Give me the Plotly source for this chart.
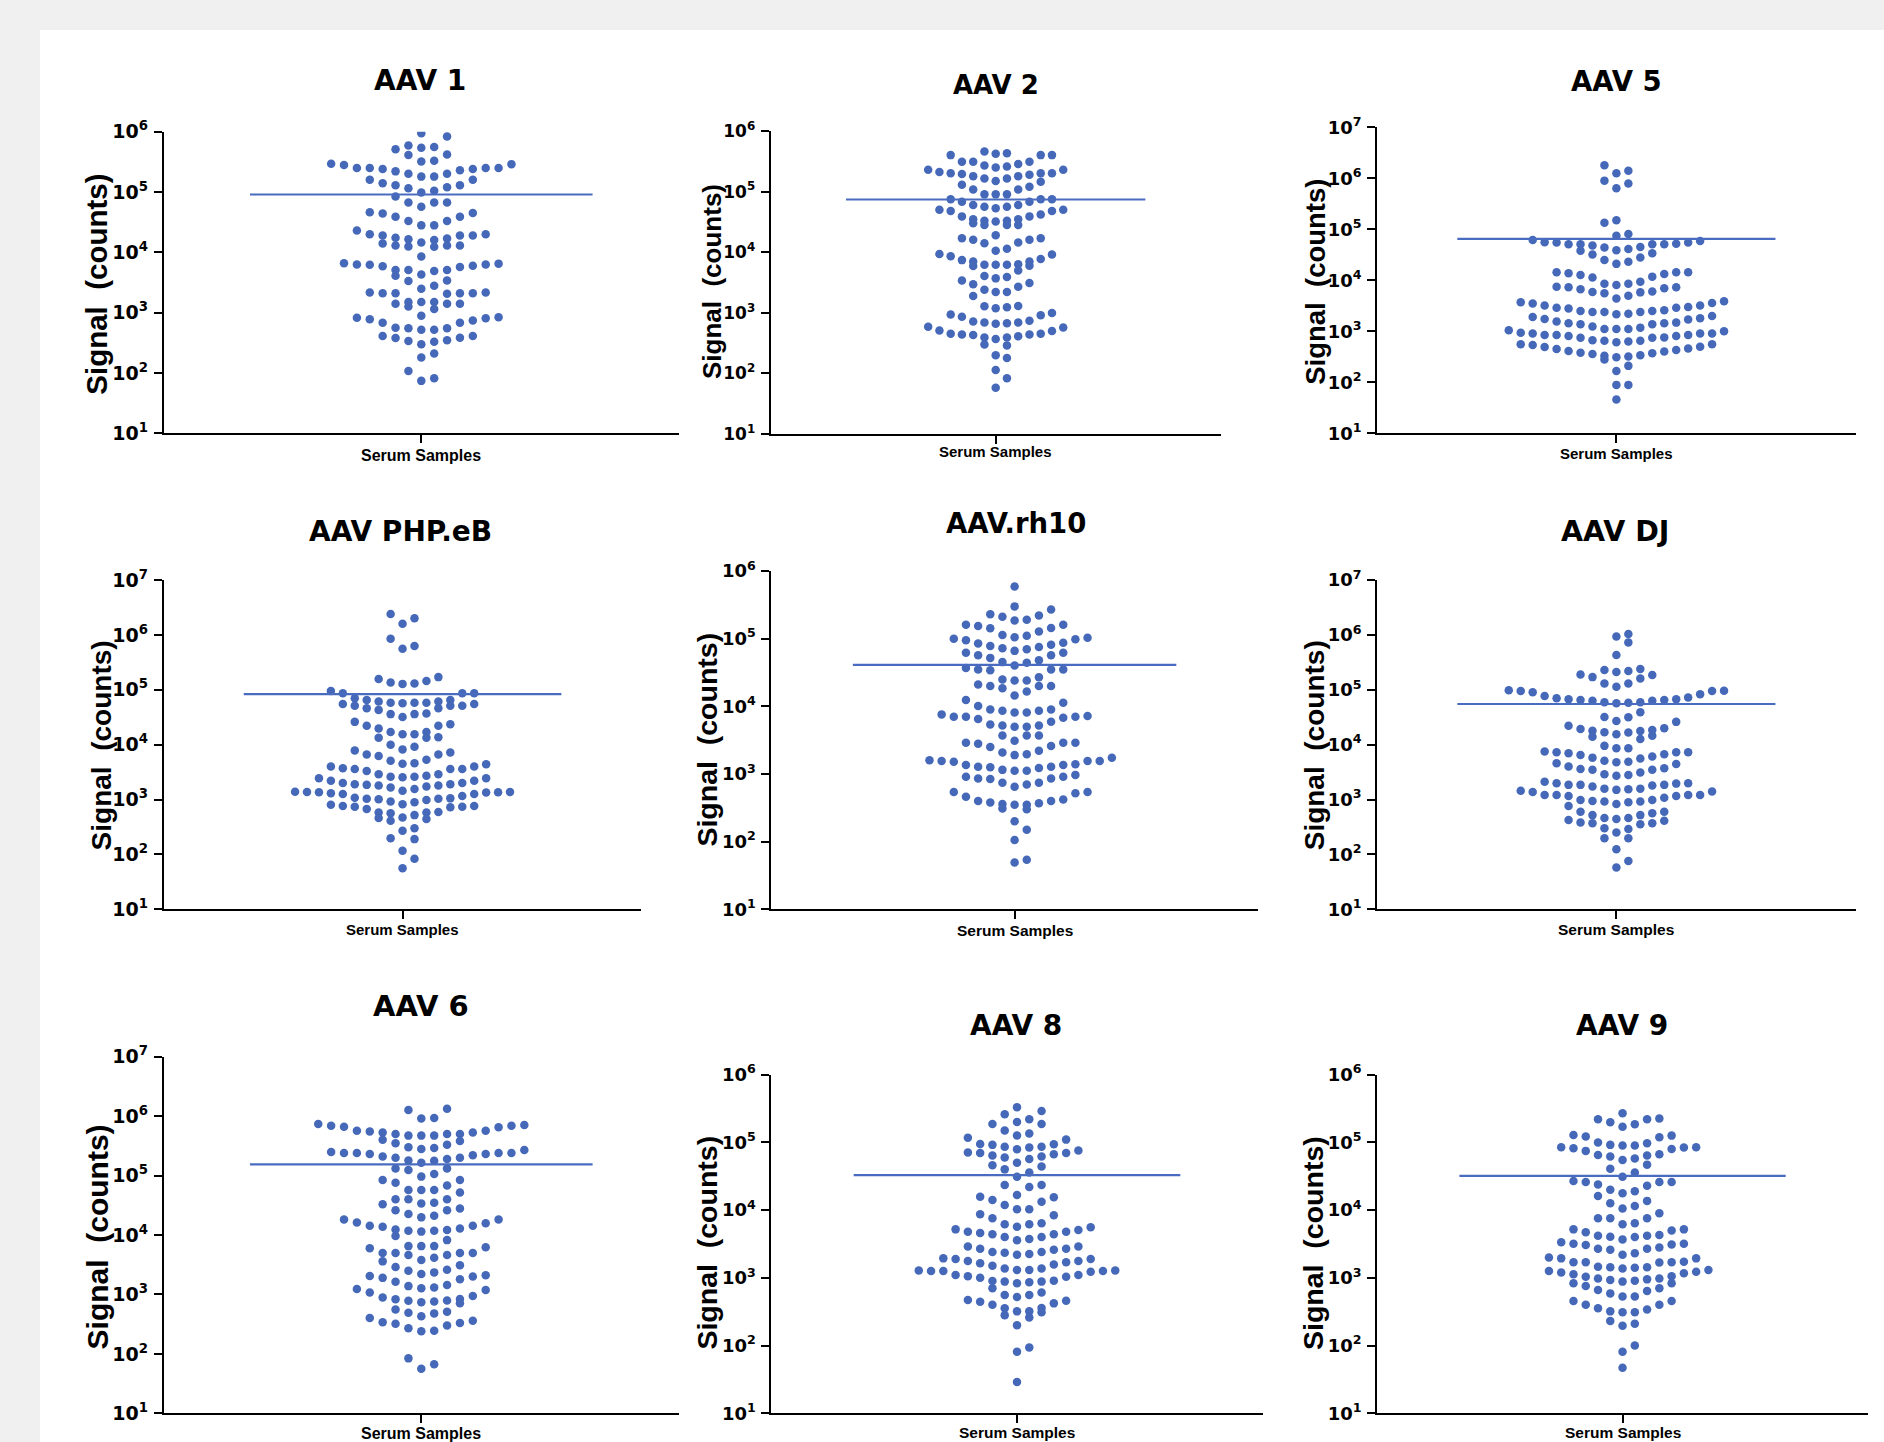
import numpy as np
import plotly.graph_objects as go

W, H = 1884, 1442

# ---------------- data (Signal counts) ----------------
titles = ["AAV 1", "AAV 2", "AAV 5", "AAV PHP.eB", "AAV.rh10", "AAV DJ",
          "AAV 6", "AAV 8", "AAV 9"]

aav1 = [9.4e5, 8.3e5, 5.9e5, 5.6e5, 5.4e5, 5.1e5, 4.2e5, 4.1e5,
        3.3e5, 3.2e5, 2.95e5, 2.9e5, 2.8e5,
        2.5e5, 2.5e5, 2.4e5, 2.3e5, 2.4e5, 2.5e5, 2.5e5,
        2.2e5, 2.0e5, 2.0e5,
        1.8e5, 1.8e5, 1.6e5, 1.6e5, 1.4e5, 1.3e5, 1.3e5, 1.2e5, 1.15e5,
        1.05e5, 9.8e4, 8.4e4, 6.7e4, 6.7e4, 6.7e4, 5.7e4, 4.6e4, 4.5e4, 4.4e4,
        3.9e4, 3.9e4, 3.3e4, 3.3e4, 2.8e4, 2.8e4, 2.3e4,
        2.0e4, 1.9e4, 1.75e4, 1.6e4, 1.45e4, 1.3e4, 1.3e4, 1.24e4, 1.25e4, 1.3e4,
        1.4e4, 1.65e4, 1.7e4, 1.9e4, 1.9e4, 2.0e4,
        8.5e3, 6.6e3, 6.3e3, 6.2e3, 5.9e3, 5.7e3, 6.0e3, 6.3e3, 6.5e3,
        5.1e3, 5.1e3, 4.9e3, 5.1e3, 4.3e3, 4.1e3, 3.4e3, 3.35e3, 2.8e3, 2.5e3,
        2.15e3, 2.1e3, 2.1e3, 2.05e3, 2.1e3, 2.1e3, 2.15e3,
        1.5e3, 1.4e3, 1.4e3, 1.26e3, 1.4e3, 1.5e3, 1.5e3, 1.15e3,
        8.4e2, 8.1e2, 7.4e2, 6.8e2, 6.8e2, 7.8e2, 8.2e2, 8.9e2,
        5.6e2, 5.5e2, 5.5e2, 5.2e2, 5.2e2,
        4.1e2, 3.85e2, 3.5e2, 3.3e2, 3.4e2, 3.0e2, 3.8e2, 4.1e2,
        2.1e2, 1.8e2, 1.08e2, 82, 74]

aav2 = [4.6e5, 4.2e5, 4.0e5, 3.1e5, 3.1e5, 3.1e5, 4.0e5, 4.0e5, 4.3e5,
        2.7e5, 2.5e5, 2.3e5, 2.1e5, 2.0e5, 1.95e5, 2.0e5, 2.0e5, 2.3e5, 2.6e5, 2.85e5,
        1.9e5, 1.8e5, 1.65e5, 1.45e5, 1.2e5, 1.3e5, 1.5e5, 1.65e5, 1.8e5,
        1.08e5, 1.08e5, 9.0e4, 9.0e4, 9.0e4, 7.5e4, 7.5e4, 7.5e4,
        6.8e4, 6.8e4, 6.0e4, 6.0e4, 5.6e4, 5.6e4, 5.3e4, 5.0e4, 5.0e4, 4.8e4, 4.8e4,
        4.2e4, 3.9e4, 3.9e4, 3.5e4, 3.5e4, 3.3e4, 3.3e4, 3.2e4, 3.0e4, 2.8e4, 2.8e4, 2.8e4,
        1.9e4, 1.7e4, 1.6e4, 1.4e4, 1.45e4, 1.6e4, 1.7e4,
        1.06e4, 9.2e3, 8.6e3, 9.3e3, 1.14e4,
        7.7e3, 7.0e3, 6.3e3, 6.2e3, 6.0e3, 5.0e3, 5.9e3, 6.2e3, 6.2e3, 7.0e3, 7.4e3,
        4.05e3, 3.7e3, 3.1e3, 2.95e3, 3.4e3, 3.9e3,
        2.7e3, 2.2e3, 1.9e3, 2.2e3, 2.4e3,
        1.3e3, 1.23e3, 9.9e2, 9.1e2, 8.6e2, 9.4e2, 1.19e3, 1.28e3,
        7.2e2, 6.9e2, 6.6e2, 5.7e2, 5.0e2, 5.1e2, 5.9e2, 6.7e2, 6.9e2, 7.4e2,
        4.5e2, 4.4e2, 4.1e2, 3.9e2, 3.0e2, 2.9e2, 3.7e2, 3.9e2, 4.3e2, 4.4e2, 4.5e2,
        1.8e2, 2.0e2, 1.14e2, 83, 58]

aav5 = [1.8e6, 1.4e6, 1.25e6, 9.0e5, 7.9e5, 6.4e5, 1.5e5, 1.35e5, 8.1e4, 7.5e4,
        6.2e4, 5.6e4, 5.5e4, 5.1e4, 5.1e4, 4.8e4, 4.4e4, 3.9e4, 3.8e4, 4.1e4, 4.5e4,
        5.1e4, 5.1e4, 5.2e4, 5.5e4, 5.9e4,
        3.2e4, 3.4e4, 2.8e4, 2.5e4, 2.3e4, 2.1e4,
        1.44e4, 1.44e4, 1.33e4, 1.18e4, 1.13e4, 1.27e4, 1.37e4, 1.44e4,
        9.4e3, 8.6e3, 7.5e3, 7.3e3, 6.7e3, 5.9e3, 5.6e3, 5.8e3, 6.0e3, 7.0e3, 7.3e3, 8.1e3, 8.6e3,
        5.0e3, 4.4e3, 3.9e3, 3.7e3, 3.5e3, 3.6e3, 3.2e3, 3.2e3, 3.0e3,
        2.9e3, 2.6e3, 2.4e3, 2.4e3, 2.2e3, 2.0e3, 1.8e3, 1.7e3, 1.75e3, 1.9e3, 2.15e3,
        2.4e3, 2.5e3, 2.5e3, 2.8e3, 2.9e3,
        1.48e3, 1.44e3, 1.37e3, 1.18e3, 1.11e3, 1.05e3, 1.0e3, 1.11e3, 1.11e3, 1.24e3,
        1.37e3, 1.44e3, 1.55e3,
        9.1e2, 9.1e2, 8.5e2, 8.1e2, 7.6e2, 7.5e2, 6.5e2, 6.1e2, 5.6e2, 6.3e2, 6.5e2,
        6.7e2, 7.5e2, 8.1e2, 8.5e2, 8.5e2, 9.1e2, 9.4e2,
        5.6e2, 5.0e2, 4.6e2, 4.3e2, 4.0e2, 3.7e2, 3.4e2, 3.2e2, 3.1e2, 3.3e2, 3.6e2,
        3.8e2, 4.1e2, 4.5e2, 4.9e2, 5.4e2,
        2.8e2, 2.1e2, 1.67e2, 89, 89, 46]

aav_php = [2.4e6, 2.0e6, 1.6e6, 8.5e5, 6.3e5, 5.6e5,
           1.7e5, 1.57e5, 1.45e5, 1.35e5, 1.3e5, 1.28e5,
           9.5e4, 8.6e4, 8.6e4, 8.6e4, 7.0e4,
           6.5e4, 6.5e4, 6.1e4, 6.1e4, 5.8e4, 5.8e4, 5.8e4, 5.7e4, 5.5e4, 5.5e4,
           5.1e4, 5.1e4, 5.1e4, 4.6e4, 4.6e4,
           4.3e4, 3.7e4, 3.6e4, 3.6e4, 3.2e4,
           2.6e4, 2.35e4, 2.2e4, 2.2e4, 1.96e4,
           1.7e4, 1.7e4, 1.55e4, 1.55e4, 1.36e4, 1.34e4, 1.34e4, 1.0e4,
           9.2e3, 8.2e3, 7.8e3, 7.2e3, 6.6e3, 6.6e3, 6.2e3,
           5.3e3, 5.1e3, 4.6e3, 4.5e3, 4.4e3, 4.0e3, 4.0e3, 3.7e3, 3.6e3, 3.6e3, 3.6e3, 3.3e3,
           2.9e3, 2.9e3, 2.7e3, 2.6e3, 2.6e3, 2.55e3, 2.45e3, 2.45e3, 2.2e3, 2.2e3, 2.0e3,
           2.0e3, 1.9e3, 1.9e3, 1.85e3, 1.8e3, 1.8e3, 1.72e3, 1.65e3, 1.56e3, 1.45e3,
           1.39e3, 1.37e3, 1.37e3, 1.36e3, 1.36e3, 1.34e3, 1.3e3, 1.26e3, 1.26e3,
           1.16e3, 1.08e3, 1.05e3, 1.03e3, 1.03e3, 1.01e3, 9.8e2, 9.2e2, 8.9e2, 8.2e2,
           8.0e2, 7.6e2, 7.6e2, 7.4e2, 7.4e2, 7.2e2,
           6.7e2, 5.9e2, 5.8e2, 5.8e2, 5.6e2, 5.2e2, 4.7e2, 4.6e2, 4.4e2, 4.1e2,
           3.0e2, 2.7e2, 1.97e2, 1.9e2, 1.17e2, 83, 56]

aav_rh10 = [5.9e5, 3.0e5, 2.7e5, 2.3e5, 2.2e5, 2.1e5, 1.9e5, 1.85e5,
            1.6e5, 1.6e5, 1.54e5, 1.44e5, 1.42e5, 1.28e5,
            1.13e5, 1.1e5, 1.05e5, 1.03e5, 1.0e5, 9.8e4, 9.5e4, 8.7e4,
            8.5e4, 8.1e4, 7.8e4, 7.5e4, 7.2e4, 7.0e4, 6.6e4, 6.2e4, 6.2e4, 5.7e4, 5.7e4,
            5.2e4, 4.8e4, 4.5e4, 4.4e4, 4.0e4, 3.7e4, 3.5e4, 3.5e4, 3.5e4, 3.4e4,
            2.7e4, 2.5e4, 2.4e4, 2.4e4,
            2.1e4, 2.0e4, 2.0e4, 2.0e4, 1.85e4, 1.65e4, 1.45e4, 1.24e4, 1.13e4, 1.01e4,
            9.0e3, 9.0e3, 8.6e3, 8.6e3, 8.1e3, 8.1e3, 7.6e3, 7.2e3, 7.0e3, 7.0e3, 7.0e3,
            6.8e3, 6.5e3, 5.9e3, 5.4e3, 5.2e3, 5.2e3, 5.0e3, 5.0e3,
            3.7e3, 3.7e3, 3.7e3,
            3.1e3, 2.9e3, 2.9e3, 2.9e3, 2.8e3, 2.6e3, 2.5e3, 2.2e3, 2.07e3,
            1.95e3, 1.9e3, 1.74e3, 1.6e3, 1.56e3, 1.56e3, 1.56e3, 1.52e3, 1.39e3, 1.36e3,
            1.36e3, 1.28e3, 1.28e3,
            1.26e3, 1.23e3, 1.15e3, 1.12e3, 1.12e3, 9.7e2, 9.1e2, 9.1e2, 8.6e2, 8.6e2, 8.4e2,
            7.4e2, 7.4e2, 7.0e2, 6.5e2, 5.4e2, 5.4e2, 5.2e2,
            4.6e2, 4.2e2, 4.0e2, 4.0e2, 3.8e2, 3.7e2, 3.6e2, 3.5e2, 3.5e2, 3.1e2, 3.0e2,
            2.0e2, 1.5e2, 1.06e2, 54, 49]

aav_dj = [1.04e6, 9.3e5, 7.3e5, 4.3e5,
          2.4e5, 2.3e5, 2.2e5, 2.1e5, 1.9e5, 1.86e5, 1.7e5, 1.6e5,
          1.3e5, 1.3e5, 1.14e5, 9.8e4, 9.5e4, 9.6e4,
          9.5e4, 9.0e4, 8.3e4, 7.7e4, 7.2e4, 7.0e4, 6.7e4, 6.7e4, 6.5e4, 6.5e4,
          6.3e4, 6.3e4, 5.9e4, 5.9e4, 5.8e4, 5.7e4,
          3.9e4, 3.2e4, 3.15e4, 2.7e4, 2.6e4,
          2.2e4, 2.0e4, 1.93e4, 1.85e4, 1.8e4, 1.78e4, 1.68e4, 1.66e4, 1.55e4, 1.46e4,
          1.4e4, 1.27e4, 9.5e3, 8.6e3, 8.6e3,
          7.5e3, 7.3e3, 7.3e3, 7.3e3, 7.0e3, 6.7e3, 6.5e3, 6.1e3, 5.8e3, 5.6e3, 5.1e3,
          4.9e3, 4.8e3, 4.6e3, 4.45e3,
          4.0e3, 3.7e3, 3.6e3, 3.5e3, 3.5e3, 3.1e3, 2.9e3, 2.8e3, 2.7e3,
          2.1e3, 1.98e3, 1.95e3, 1.98e3, 1.85e3, 1.85e3, 1.85e3, 1.8e3, 1.72e3, 1.58e3,
          1.58e3, 1.54e3, 1.5e3, 1.44e3, 1.4e3, 1.37e3,
          1.21e3, 1.21e3, 1.21e3, 1.21e3, 1.16e3, 1.16e3, 1.08e3, 9.8e2, 9.8e2, 9.4e2,
          9.2e2, 9.2e2, 8.9e2, 8.3e2, 7.6e2,
          6.0e2, 6.0e2, 5.6e2, 5.2e2, 5.2e2, 4.6e2, 4.6e2, 4.4e2, 4.25e2,
          4.1e2, 3.8e2, 3.7e2, 3.7e2, 3.55e2,
          3.0e2, 2.9e2, 2.5e2, 1.97e2, 1.97e2, 1.24e2, 76, 58]

aav6 = [1.33e6, 1.27e6, 9.3e5, 9.1e5,
        7.4e5, 6.9e5, 6.5e5, 5.7e5, 5.5e5, 5.3e5, 5.0e5, 5.0e5, 5.0e5, 5.3e5, 5.7e5,
        6.6e5, 6.9e5, 7.1e5,
        4.7e5, 4.7e5, 4.7e5, 3.8e5, 4.0e5, 3.5e5, 3.3e5, 2.9e5, 3.0e5,
        2.8e5, 2.5e5, 2.4e5, 2.4e5, 2.3e5, 2.1e5, 2.0e5, 1.8e5, 1.78e5, 1.9e5, 2.0e5,
        2.2e5, 2.3e5, 2.4e5, 2.4e5, 2.7e5,
        1.65e5, 1.32e5, 1.24e5, 1.32e5, 1.06e5, 9.6e4, 8.4e4, 8.4e4, 7.6e4, 6.8e4,
        5.7e4, 5.7e4, 5.7e4, 5.2e4, 4.0e4, 4.0e4, 4.0e4, 3.5e4, 3.3e4, 3.4e4,
        2.8e4, 2.6e4, 2.6e4, 2.25e4, 2.1e4, 1.98e4,
        1.83e4, 1.63e4, 1.43e4, 1.38e4, 1.24e4, 1.18e4, 1.14e4, 1.18e4, 1.21e4, 1.29e4,
        1.43e4, 1.57e4, 1.83e4,
        9.6e3, 8.2e3, 6.5e3, 6.5e3, 6.2e3, 6.5e3, 5.0e3, 5.0e3, 4.6e3, 4.6e3, 5.0e3,
        5.0e3, 6.0e3, 4.15e3, 3.6e3, 3.8e3, 2.9e3, 3.1e3, 2.6e3, 2.35e3, 2.5e3,
        2.2e3, 2.1e3, 2.0e3, 1.8e3, 1.64e3, 1.9e3, 2.04e3,
        1.44e3, 1.31e3, 1.23e3, 1.27e3, 1.38e3, 1.19e3, 1.08e3,
        9.4e2, 8.4e2, 7.9e2, 7.6e2, 7.4e2, 7.8e2, 8.3e2, 8.9e2, 7.1e2,
        5.6e2, 4.9e2, 4.3e2, 4.8e2, 5.1e2,
        3.6e2, 3.3e2, 3.0e2, 2.45e2, 2.4e2, 2.7e2, 3.2e2, 3.4e2, 4.0e2,
        84, 67, 56]

aav8 = [3.3e5, 2.9e5, 2.6e5, 2.2e5, 2.0e5, 1.87e5, 1.87e5, 1.5e5, 1.27e5, 1.35e5,
        1.17e5, 1.1e5, 9.4e4, 9.2e4, 9.5e4,
        8.6e4, 8.4e4, 7.6e4, 7.0e4, 6.7e4, 6.2e4, 5.7e4, 6.0e4, 6.4e4, 7.0e4, 7.1e4,
        7.9e4, 8.6e4,
        5.0e4, 4.6e4, 4.4e4, 4.0e4, 3.6e4, 3.1e4, 2.35e4, 2.35e4, 2.2e4,
        1.58e4, 1.67e4, 1.55e4, 1.41e4, 1.33e4, 1.19e4, 1.03e4, 1.03e4, 8.7e3, 8.4e3, 7.6e3,
        6.2e3, 5.7e3, 5.6e3, 6.2e3, 6.4e3,
        5.2e3, 4.8e3, 4.6e3, 4.4e3, 4.0e3, 3.6e3, 3.75e3, 4.0e3, 4.4e3, 4.8e3, 5.1e3,
        2.9e3, 2.7e3, 2.6e3, 2.4e3, 2.25e3, 2.2e3, 2.35e3, 2.4e3, 2.7e3, 2.9e3,
        1.9e3, 1.77e3, 1.7e3, 1.58e3, 1.37e3, 1.31e3, 1.28e3, 1.26e3, 1.28e3, 1.31e3,
        1.37e3, 1.51e3, 1.64e3, 1.77e3, 1.9e3, 1.94e3,
        1.26e3, 1.23e3, 1.1e3, 1.04e3, 9.1e2, 8.8e2, 8.6e2, 8.3e2, 8.8e2, 9.0e2,
        1.0e3, 1.06e3, 1.1e3, 1.26e3,
        7.0e2, 6.1e2, 5.6e2, 5.6e2, 5.2e2,
        4.6e2, 4.2e2, 3.6e2, 3.2e2, 3.2e2, 3.55e2, 4.0e2, 4.45e2, 4.7e2,
        2.8e2, 2.6e2, 3.1e2, 2.0e2, 94, 81, 29]

aav9 = [2.7e5, 2.26e5, 2.2e5, 2.2e5, 1.98e5, 1.85e5, 1.7e5, 1.29e5, 1.26e5, 1.22e5, 1.19e5,
        1.0e5, 9.7e4, 9.2e4, 9.0e4, 8.5e4, 8.2e4, 8.5e4, 9.0e4, 8.0e4, 8.4e4, 7.5e4,
        6.2e4, 6.7e4, 6.5e4, 5.8e4, 6.4e4, 5.5e4, 4.7e4, 4.1e4, 3.6e4, 3.1e4, 2.7e4,
        2.6e4, 2.6e4, 2.6e4, 2.3e4, 2.4e4, 2.0e4, 1.9e4, 1.77e4, 1.62e4, 1.37e4, 1.26e4,
        1.15e4, 1.06e4, 9.0e3,
        7.6e3, 7.6e3, 7.6e3, 6.2e3, 6.4e3, 5.2e3, 5.0e3, 5.2e3,
        4.7e3, 4.2e3, 4.05e3, 3.7e3, 4.2e3, 4.0e3, 4.3e3,
        3.05e3, 2.7e3, 2.6e3, 3.2e3, 3.1e3, 3.2e3, 3.35e3, 2.7e3, 2.8e3,
        2.2e3, 2.0e3, 2.3e3,
        1.94e3, 1.7e3, 1.68e3, 1.46e3, 1.43e3, 1.38e3, 1.26e3, 1.31e3, 1.41e3, 1.43e3,
        1.7e3, 1.7e3, 1.73e3, 1.94e3,
        1.23e3, 1.17e3, 1.06e3, 9.8e2, 9.5e2, 9.1e2, 8.3e2, 8.3e2, 8.8e2, 9.3e2,
        9.8e2, 1.04e3, 1.13e3, 1.2e3,
        7.6e2, 6.6e2, 5.9e2, 5.3e2, 5.3e2, 6.4e2, 7.0e2,
        4.55e2, 4.0e2, 3.4e2, 3.1e2, 3.1e2, 3.2e2, 3.55e2, 4.0e2, 4.55e2,
        2.3e2, 1.97e2, 2.1e2, 1.0e2, 81, 47]

series = [aav1, aav2, aav5, aav_php, aav_rh10, aav_dj, aav6, aav8, aav9]
mean_lines = [9.1e4, 7.4e4, 6.5e4, 8.3e4, 4.1e4, 5.5e4, 1.54e5, 3.3e4, 3.2e4]
y_top_exp = [6, 6, 7, 7, 6, 7, 7, 6, 6]
x_label = "Serum Samples"
y_label = "Signal\u00a0\u00a0(counts)"

# ---------------- layout geometry (px) ----------------
boxes = [  # x0, x1, y_top, y_bottom
    (163.7, 678.9, 131.7, 433.3), (770.6, 1220.8, 131.0, 434.0), (1377.2, 1855.6, 127.3, 433.3),
    (163.7, 641.4, 580.0, 909.3), (771.4, 1257.8, 571.0, 909.3), (1377.2, 1855.6, 580.0, 909.3),
    (163.7, 678.9, 1056.7, 1413.3), (771.4, 1262.6, 1074.7, 1413.3), (1377.2, 1867.9, 1074.7, 1413.3)]
title_pos = [(420, 81), (995.5, 85), (1616, 81), (400.2, 531), (1015.5, 523), (1614.9, 531),
             (420.8, 1006), (1015.5, 1025), (1622.4, 1025)]
title_size = [28, 26, 27.5, 28, 27.5, 28.5, 29, 28, 28]
ylab_pos = [(95.7, 284), (712, 282), (1314.8, 282), (101.7, 745.7), (706.6, 740), (1314.8, 745.5),
            (97.7, 1236.7), (706.6, 1243), (1313, 1243)]
ylab_size = [29.5, 26, 27.5, 28, 28.5, 28, 30, 28.5, 28.5]
xlab_y = [455, 451.7, 453.3, 929.3, 930.7, 929.3, 1433, 1432.5, 1432.5]
xlab_size = [16, 15, 15, 15, 15.5, 15.5, 16, 15.5, 15.5]
tick_size = [19, 17, 18, 19, 18, 18, 19, 18, 18]

HALF_SLOTS = 20      # half-width of x axis in dot-slot units
MEAN_HALF = 13.3     # half-width of mean line in slot units
ROW_PX = 13.2        # vertical extent of one swarm row in px
DOT = "#4568b9"
LINE = "#4a6cc0"


def swarm_slots(values, lo, hi, height_px, row_px):
    v = np.asarray(values, float)
    depth = (hi - np.log10(v)) * height_px / (hi - lo)
    order = np.argsort(-depth, kind="stable")
    slots = np.zeros(len(v))
    i, n = 0, len(order)
    while i < n:
        start = depth[order[i]]
        j = i
        while j < n and start - depth[order[j]] <= row_px:
            j += 1
        for r, idx in enumerate(order[i:j]):
            k = (r + 1) // 2
            slots[idx] = k if r % 2 == 1 else -k
        i = j
    return slots


fig = go.Figure()
annotations = []
for p in range(9):
    x0, x1, yt, yb = boxes[p]
    xa = "x" if p == 0 else f"x{p + 1}"
    ya = "y" if p == 0 else f"y{p + 1}"
    top = y_top_exp[p]
    xs = swarm_slots(series[p], 1, top, yb - yt, ROW_PX)
    fig.add_trace(go.Scatter(x=xs, y=series[p], mode="markers", xaxis=xa, yaxis=ya,
                             marker=dict(size=8.5, color=DOT, line=dict(width=0)),
                             showlegend=False, hoverinfo="y"))
    fig.add_trace(go.Scatter(x=[-MEAN_HALF, MEAN_HALF], y=[mean_lines[p]] * 2, mode="lines",
                             xaxis=xa, yaxis=ya, line=dict(color=LINE, width=2.2),
                             showlegend=False, hoverinfo="skip"))
    axis_common = dict(showline=True, linecolor="black", linewidth=2, showgrid=False,
                       zeroline=False, ticks="outside", ticklen=8, tickwidth=2,
                       tickcolor="black", automargin=False)
    xkey = "xaxis" if p == 0 else f"xaxis{p + 1}"
    ykey = "yaxis" if p == 0 else f"yaxis{p + 1}"
    fig.layout[xkey] = dict(domain=[x0 / W, x1 / W], anchor=ya, range=[-HALF_SLOTS, HALF_SLOTS],
                            tickvals=[0], ticktext=[""], fixedrange=True, **axis_common)
    exps = list(range(1, top + 1))
    fig.layout[ykey] = dict(domain=[1 - yb / H, 1 - yt / H], anchor=xa, type="log",
                            range=[1, top], tickvals=[10 ** e for e in exps],
                            ticktext=[f"10<sup>{e}</sup>" for e in exps],
                            tickfont=dict(family="DejaVu Sans", size=tick_size[p],
                                          color="black", weight="bold"),
                            ticklabelstandoff=2, **axis_common)
    tx, ty = title_pos[p]
    annotations.append(dict(text=titles[p], x=tx / W, y=1 - ty / H, xref="paper", yref="paper",
                            xanchor="center", yanchor="middle", showarrow=False,
                            font=dict(family="DejaVu Sans", size=title_size[p], color="black",
                                      weight="bold")))
    lx, ly = ylab_pos[p]
    annotations.append(dict(text=y_label, x=lx / W, y=1 - ly / H, xref="paper", yref="paper",
                            xanchor="center", yanchor="middle", showarrow=False, textangle=-90,
                            font=dict(family="Liberation Sans", size=ylab_size[p], color="black",
                                      weight="bold")))
    annotations.append(dict(text=x_label, x=(x0 + x1) / 2 / W, y=1 - xlab_y[p] / H, xref="paper",
                            yref="paper", xanchor="center", yanchor="middle", showarrow=False,
                            font=dict(family="Liberation Sans", size=xlab_size[p], color="black",
                                      weight="bold")))

fig.update_layout(
    width=W, height=H, margin=dict(l=0, r=0, t=0, b=0, pad=0, autoexpand=False),
    paper_bgcolor="#f0f0f0", plot_bgcolor="rgba(0,0,0,0)",
    annotations=annotations,
    shapes=[dict(type="rect", xref="paper", yref="paper", x0=40 / W, x1=1, y0=0, y1=1 - 30 / H,
                 fillcolor="white", line=dict(width=0), layer="below")],
)
# pin the figure to the window's top-left corner so it fills the 1884x1442 window exactly
pin = ("var gd=document.getElementById('{plot_id}');"
       "document.documentElement.style.margin='0';document.body.style.margin='0';"
       "document.documentElement.style.overflow='hidden';document.body.style.overflow='hidden';"
       "document.body.style.background='#f0f0f0';"
       "gd.style.position='fixed';gd.style.left='0px';gd.style.top='0px';")
fig.write_html("out.html", config={"displayModeBar": False}, post_script=pin)
